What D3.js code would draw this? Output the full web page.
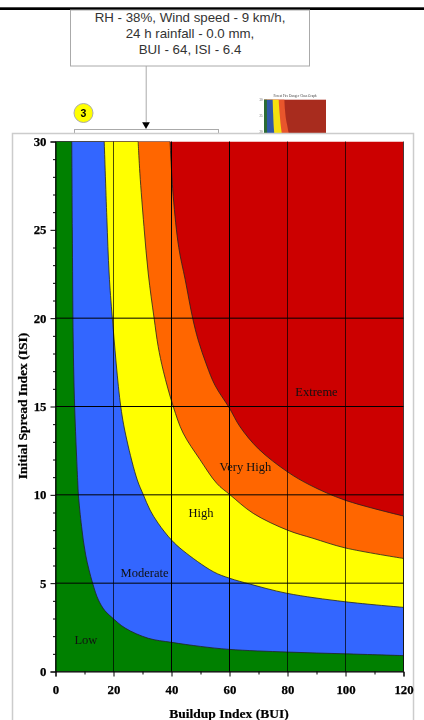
<!DOCTYPE html>
<html><head><meta charset="utf-8">
<script src="https://cdnjs.cloudflare.com/ajax/libs/d3/7.8.5/d3.min.js"></script>
<style>html,body{margin:0;padding:0;background:#fff}svg{display:block;filter:blur(0.3px)}</style>
</head><body><svg id="c" width="424" height="720"></svg>
<script>
const lowBoundary=[[5.6,30],[5.8,25],[6.1,18.75],[6.6,15],[7.65,10.8],[7.9,10],[9,8.2],[10.4,6.6],[12.8,5],[14.8,4.05],[17,3.45],[19.4,3.07],[24,2.46],[32,1.88],[40,1.65],[50,1.42],[60,1.25],[80,1.1],[100,1],[120,0.9]];
const moderateBoundary=[[16.8,30],[17.7,25.7],[18.5,22.5],[19.6,20],[22.5,15],[24.6,13.1],[28.2,10.84],[30.3,10],[32.6,9.14],[35.4,8.39],[40,7.44],[44,6.84],[54.4,5.65],[60.2,5.27],[67,4.95],[79.7,4.43],[99.8,3.95],[120,3.63]];
const highBoundary=[[28.5,30],[29.1,28.2],[30.5,25.2],[32,22.5],[34,20],[35.4,18.4],[37.2,17],[40.6,15],[44,13.5],[49.8,12],[55.6,10.65],[60.2,10],[68.2,8.95],[80,8],[88.8,7.54],[99.8,7],[120,6.4]];
const veryHighBoundary=[[39.5,30],[40.6,26.9],[42.5,24],[44.7,22.2],[47.3,20],[49.2,18.76],[52.1,17.35],[55,16.2],[60,14.9],[63.6,13.86],[70,12.6],[80,11.3],[87.8,10.55],[99.8,9.7],[120,8.8]];
const classColors=["#cc0000","#ff6600","#ffff00","#3366ff","#008000"];
const thumbColors=["#a82c1e","#e8562c","#f5e010","#3058a8","#2a6b35"];
const classLabels=[["Low",10.5,1.78],["Moderate",30.7,5.58],["High",50.2,8.96],["Very High",65.5,11.56],["Extreme",90,15.8]];
const xMajor=[0,20,40,60,80,100,120];
const yMajor=[0,5,10,15,20,25,30];
const xGrid=[20,40,60,80,100,120];
const yGrid=[5,10,15,20];
const xMinor=[10,30,50,70,90,110];
const yMinor=[1,2,3,4,6,7,8,9,11,12,13,14,16,17,18,19,21,22,23,24,26,27,28,29];
const thumbTicks=[30,25,20];
const noteLines=["RH - 38%, Wind speed - 9 km/h,","24 h rainfall - 0.0 mm,","BUI - 64, ISI - 6.4"];
const xTitle="Buildup Index (BUI)", yTitle="Initial Spread Index (ISI)", thumbTitle="Forest Fire Danger Class Graph";

const svg=d3.select("#c");
const SERIF="'Liberation Serif',serif", SANS="'Liberation Sans',Arial,sans-serif";
const boundaries=[veryHighBoundary,highBoundary,moderateBoundary,lowBoundary];
function regionPath(b,sx,sy){
  const curve=d3.line().x(d=>sx(d[0])).y(d=>sy(d[1])).curve(d3.curveCatmullRom.alpha(0.5))(b);
  return `M${sx(0)},${sy(0)}L${sx(0)},${sy(30)}L${curve.slice(1)}L${sx(120)},${sy(0)}Z`;
}
function drawRegions(g,sx,sy,colors,stroke){
  g.append("rect").attr("x",sx(0)).attr("y",sy(30)).attr("width",sx(120)-sx(0)).attr("height",sy(0)-sy(30)).attr("fill",colors[0]);
  g.selectAll("path.r").data(boundaries).join("path").attr("class","r")
   .attr("d",b=>regionPath(b,sx,sy)).attr("fill",(b,i)=>colors[i+1]).attr("stroke",stroke).attr("stroke-width",stroke==="none"?0:0.8);
}
// page behind the chart
svg.append("rect").attr("x",0).attr("y",7.3).attr("width",424).attr("height",2.7).attr("fill","#000");
svg.append("rect").attr("x",70.5).attr("y",10).attr("width",239).attr("height",56).attr("fill","#fff").attr("stroke","#aaa");
svg.selectAll("text.n").data(noteLines).join("text").attr("class","n").attr("x",190).attr("y",(d,i)=>21.5+i*16)
 .attr("text-anchor","middle").attr("font-family",SANS).attr("font-size",13.3).attr("fill","#333").text(d=>d);
svg.append("line").attr("x1",146.2).attr("x2",146.2).attr("y1",66).attr("y2",122).attr("stroke","#aaa");
svg.append("path").attr("d",d3.symbol(d3.symbolTriangle,26)()).attr("transform","translate(146,124.5) rotate(180)").attr("fill","#000");
svg.append("circle").attr("cx",83.5).attr("cy",113).attr("r",9.5).attr("fill","#ffff00").attr("stroke","#aaa");
svg.append("text").attr("x",83.5).attr("y",117).attr("text-anchor","middle").attr("font-family",SANS).attr("font-weight","bold").attr("font-size",10.5).text("3");
svg.append("rect").attr("x",74.5).attr("y",129.5).attr("width",144).attr("height",20).attr("fill","#fff").attr("stroke","#aaa");
// thumbnail of the same graph, running under the panel
const tx=d3.scaleLinear([0,120],[264,326]), ty=d3.scaleLinear([0,30],[195.7,99.7]);
const thumb=svg.append("g");
drawRegions(thumb,tx,ty,thumbColors,"none");
thumb.append("text").attr("x",295).attr("y",97).attr("text-anchor","middle").attr("font-family",SERIF).attr("font-size",3.4).attr("fill","#444").text(thumbTitle);
thumb.selectAll("text.t").data(thumbTicks).join("text").attr("class","t").attr("x",262.5).attr("y",d=>ty(d)+1).attr("text-anchor","end").attr("font-family",SERIF).attr("font-size",3).attr("fill","#555").text(d=>d);
// main panel
svg.append("rect").attr("x",12.5).attr("y",133.5).attr("width",401).attr("height",600).attr("fill","#fff").attr("stroke","#ccc").attr("stroke-width",1.5);

const x=d3.scaleLinear([0,120],[55.5,403.5]), y=d3.scaleLinear([0,30],[671.5,141.5]);
svg.append("defs").append("clipPath").attr("id","pc").append("rect").attr("x",x(0)).attr("y",y(30)).attr("width",x(120)-x(0)).attr("height",y(0)-y(30));
const plot=svg.append("g").attr("clip-path","url(#pc)");
drawRegions(plot,x,y,classColors,"#222");
// grid
svg.append("g").selectAll("line").data(xGrid).join("line").attr("x1",d=>x(d)).attr("x2",d=>x(d)).attr("y1",y(30)).attr("y2",y(0)).attr("stroke","#000").attr("stroke-opacity",d=>d===60||d===40?1:.7);
svg.append("g").selectAll("line").data(yGrid).join("line").attr("x1",x(0)).attr("x2",x(120)).attr("y1",d=>y(d)).attr("y2",d=>y(d)).attr("stroke","#000");
// axes
function styleAxis(g){g.selectAll("text").attr("font-family",SERIF).attr("font-weight","bold").attr("font-size",12.8).attr("fill","#000").attr("stroke","#000").attr("stroke-width",.25);g.selectAll("path,line").attr("stroke","#000");}
svg.append("g").attr("transform",`translate(0,${y(0)})`).call(d3.axisBottom(x).tickValues(xMajor).tickSizeOuter(0).tickSize(5).tickPadding(8)).call(styleAxis);
svg.append("g").attr("transform",`translate(0,${y(0)})`).call(d3.axisBottom(x).tickValues(xMinor).tickSize(3).tickFormat("")).call(g=>g.select("path").remove()).call(styleAxis);
svg.append("g").attr("transform",`translate(${x(0)},0)`).call(d3.axisLeft(y).tickValues(yMajor).tickSizeOuter(0).tickSize(5).tickPadding(4)).call(styleAxis);
svg.append("g").attr("transform",`translate(${x(0)},0)`).call(d3.axisLeft(y).tickValues(yMinor).tickSize(2.5).tickFormat("")).call(g=>g.select("path").remove()).call(styleAxis);
// labels
svg.selectAll("text.l").data(classLabels).join("text").attr("class","l").attr("x",d=>x(d[1])).attr("y",d=>y(d[2])+4)
 .attr("text-anchor","middle").attr("font-family",SERIF).attr("font-size",12.5).attr("fill","#111").text(d=>d[0]);
svg.append("text").attr("x",229).attr("y",717.5).attr("text-anchor","middle").attr("font-family",SERIF).attr("font-weight","bold").attr("font-size",13.5).attr("stroke","#000").attr("stroke-width",.2).text(xTitle);
svg.append("text").attr("transform","translate(26.5,406) rotate(-90)").attr("text-anchor","middle").attr("font-family",SERIF).attr("font-weight","bold").attr("font-size",13.5).attr("stroke","#000").attr("stroke-width",.2).text(yTitle);
</script></body></html>
